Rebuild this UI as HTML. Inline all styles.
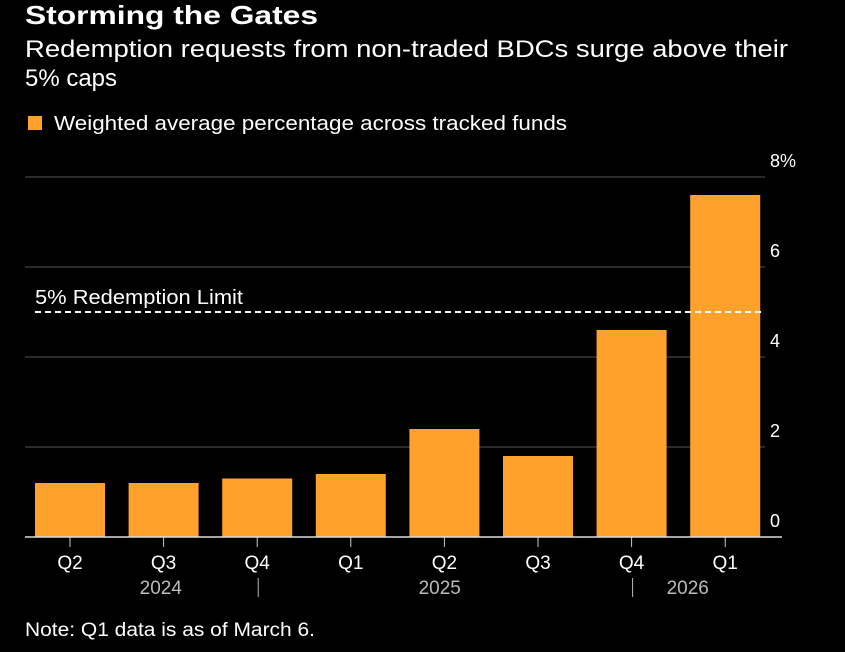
<!DOCTYPE html>
<html><head><meta charset="utf-8"><style>
body{margin:0;background:#000;width:845px;height:647px;overflow:hidden;font-family:"Liberation Sans",sans-serif;color:#fff}
text{font-family:"Liberation Sans",sans-serif}
</style></head><body>
<svg width="845" height="647">
<text x="25" y="24" font-size="26" font-weight="bold" fill="#fff" textLength="293" lengthAdjust="spacingAndGlyphs">Storming the Gates</text>
<text x="25" y="57" font-size="24" fill="#fff" textLength="763" lengthAdjust="spacingAndGlyphs">Redemption requests from non-traded BDCs surge above their</text>
<text x="25" y="86" font-size="24" fill="#fff" textLength="92" lengthAdjust="spacingAndGlyphs">5% caps</text>
<rect x="28" y="116" width="14" height="14" fill="#ffa12b"/>
<text x="54" y="130" font-size="20" fill="#fff" textLength="513" lengthAdjust="spacingAndGlyphs">Weighted average percentage across tracked funds</text>
<g id="grid"></g><g id="bars"></g><g id="axis"></g>
<text x="25" y="636" font-size="19" fill="#fff" textLength="290" lengthAdjust="spacingAndGlyphs">Note: Q1 data is as of March 6.</text>
</svg>
<script>
const categories=["Q2","Q3","Q4","Q1","Q2","Q3","Q4","Q1"];
const values=[1.2,1.2,1.3,1.4,2.4,1.8,4.6,7.6];
const yTicks=[0,2,4,6,8];
const yTickLabels=["0","2","4","6","8%"];
const years=[{label:"2024",at:0.97},{label:"2025",at:3.95},{label:"2026",at:6.6}];
const separators=[2,6];
const limit=5;
const NS="http://www.w3.org/2000/svg";
const y=v=>537-v*45;
const x=i=>70+i*93.6;
function mk(t,a,p){const e=document.createElementNS(NS,t);for(const k in a)e.setAttribute(k,a[k]);p.appendChild(e);return e;}
const g=document.getElementById('grid'),b=document.getElementById('bars'),ax=document.getElementById('axis');
yTicks.forEach((v,i)=>{
 if(v>0){const l=mk('line',{x1:25,x2:765,y1:y(v),y2:y(v),stroke:'#555','stroke-width':1},g);
 
 }
 const t=mk('text',{x:770,y:y(v)-10,'font-size':18,fill:'#fff'},g);t.textContent=yTickLabels[i];
 
 
});
values.forEach((v,i)=>{
 const r=mk('rect',{x:x(i)-35,y:y(v),width:70,height:v*45,fill:'#ffa12b'},b);
 
 
 const tk=mk('line',{x1:x(i),x2:x(i),y1:537,y2:547,stroke:'#ccc'},ax);
 
 
 const t=mk('text',{x:x(i),y:569,'font-size':19,fill:'#fff','text-anchor':'middle'},ax);t.textContent=categories[i];
 
 
});
const base=mk('line',{x1:25,x2:782,y1:537,y2:537,stroke:'#ddd','stroke-width':1.5},ax);


years.forEach(yy=>{const t=mk('text',{x:x(yy.at),y:594,'font-size':19,fill:'#bbb','text-anchor':'middle'},ax);t.textContent=yy.label;
 
 });
separators.forEach(s=>{const l=mk('line',{x1:x(s)+1,x2:x(s)+1,y1:578,y2:597,stroke:'#bbb'},ax);
 
 });
const d=mk('line',{x1:35,x2:762,y1:y(limit),y2:y(limit),stroke:'#fff','stroke-width':2,'stroke-dasharray':'6,4'},ax);


const lt=mk('text',{x:35,y:y(limit)-8,'font-size':20,fill:'#fff',textLength:208,lengthAdjust:'spacingAndGlyphs'},ax);lt.textContent="5% Redemption Limit";


</script>
</body></html>
